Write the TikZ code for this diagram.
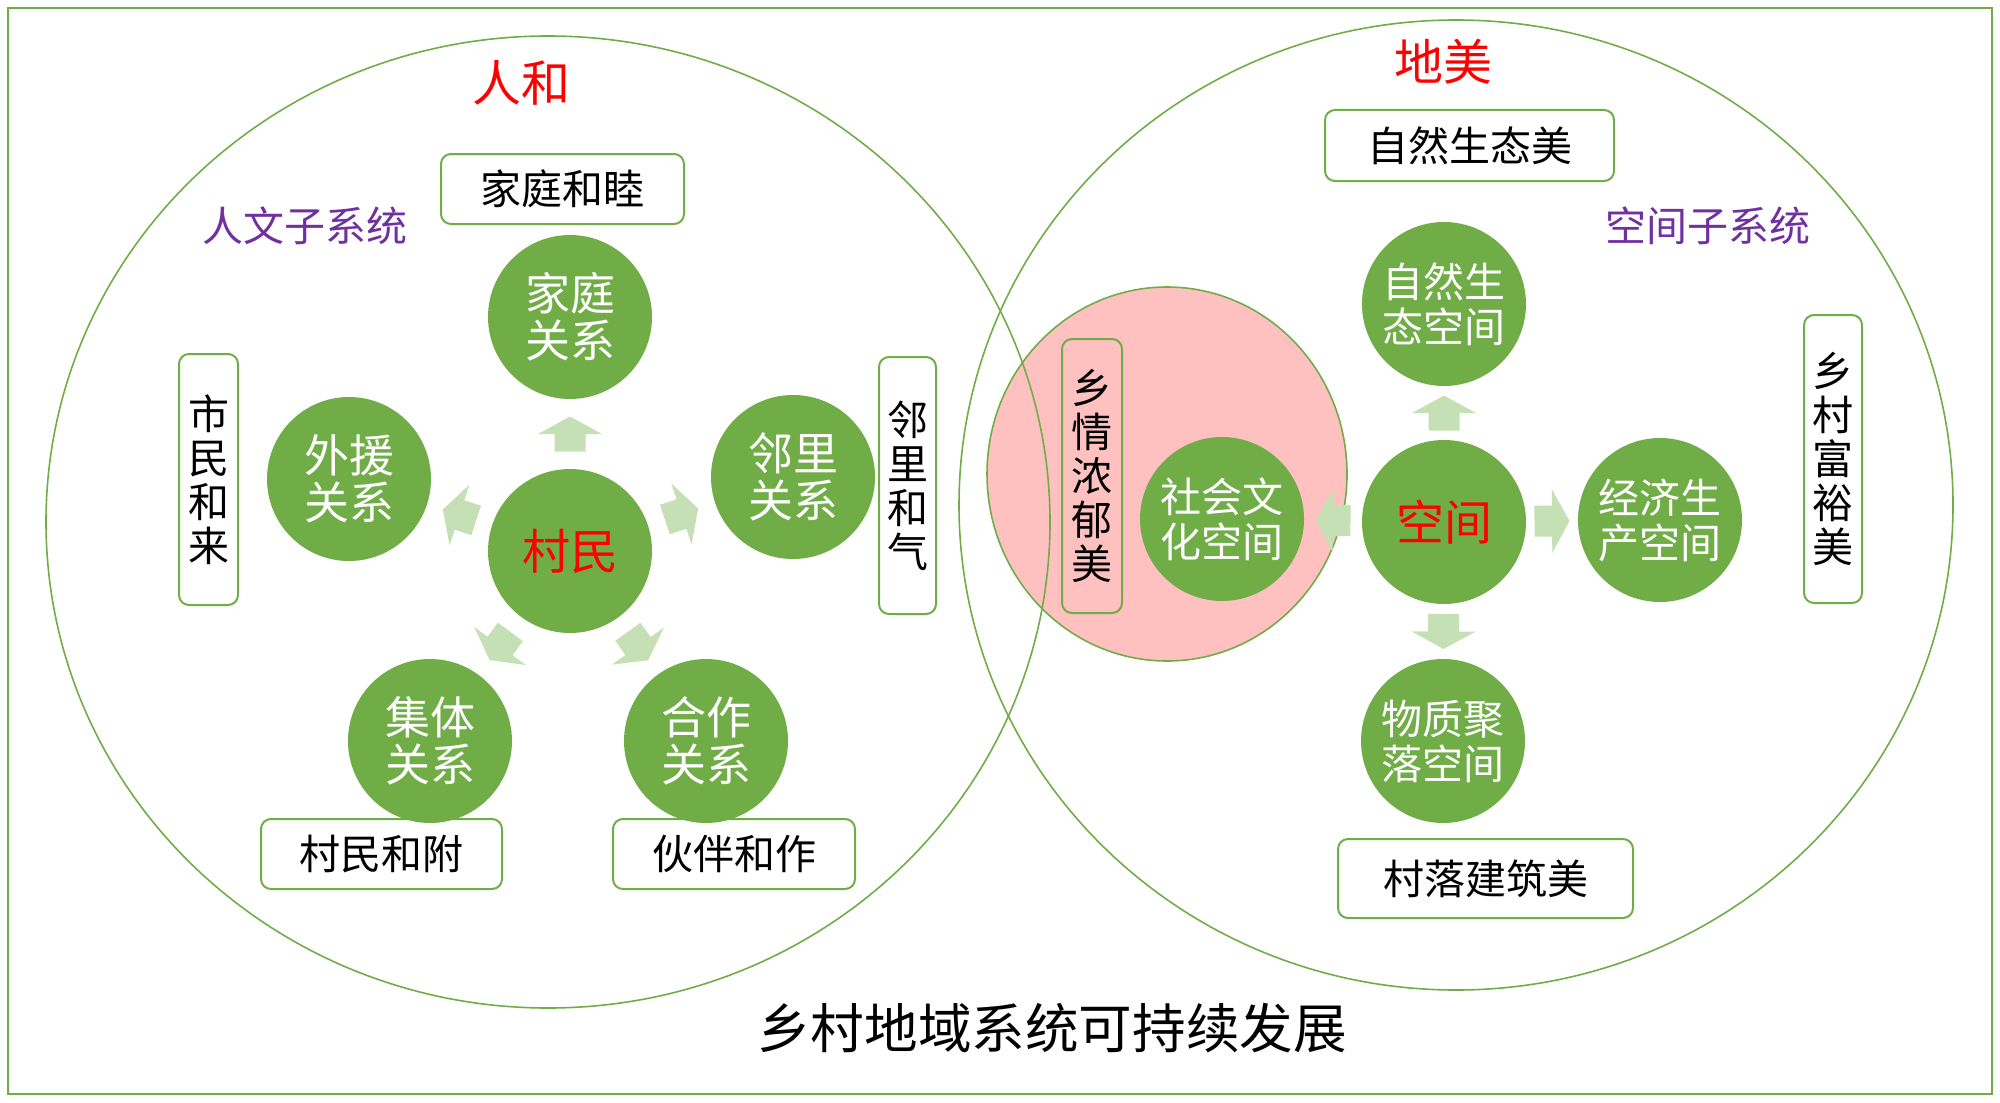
\documentclass[tikz,border=0pt]{standalone}
\usepackage{fontspec}
\setmainfont{Noto Sans CJK SC}
\usetikzlibrary{calc}
\definecolor{cgreen}{HTML}{70AD47}
\definecolor{lgreen}{HTML}{C5E0B4}
\definecolor{cpink}{HTML}{FFC0C0}
\definecolor{cpurple}{HTML}{7030A0}
\newcommand{\fsz}[2]{\fontsize{#1}{#2}\selectfont}
\newcommand{\blockarr}[2]{%
  \pgfmathanglebetweenpoints{\pgfpointanchor{#1}{center}}{\pgfpointanchor{#2}{center}}%
  \let\arrangle\pgfmathresult
  \fill[lgreen, shift={($(#1)!0.5!(#2)$)}, rotate=\arrangle]
    (-17.5,-15.5) -- (0,-15.5) -- (0,-32) -- (17.5,0) -- (0,32) -- (0,15.5) -- (-17.5,15.5) -- cycle;%
}
\begin{document}
\begin{tikzpicture}[x=0.5pt,y=-0.5pt,
  bub/.style={circle, fill=cgreen, draw=none, minimum size=82pt, inner sep=0pt, text=white, align=center},
  bubtwo/.style={bub, font=\fsz{22.5pt}{23.5pt}},
  bubthree/.style={bub, font=\fsz{20.5pt}{22.5pt}},
  bubcore/.style={bub, font=\fsz{24pt}{26pt}, text=red},
  tag/.style={draw=cgreen, line width=1pt, rounded corners=5pt, inner sep=0pt, align=center, font=\fsz{20.5pt}{22pt}},
  ring/.style={draw=cgreen, line width=0.8pt},
  heading/.style={font=\fsz{24.5pt}{26pt}, text=red},
  subsys/.style={font=\fsz{20.5pt}{22pt}, text=cpurple}
]
\useasboundingbox (0,0) rectangle (2000,1102);
\draw[ring] (8,8) rectangle (1992,1094);

% pink social-culture ellipse
\path[fill=cpink, draw=cgreen, line width=0.8pt] (1167,474) ellipse [x radius=90pt, y radius=93.5pt];

% big system ellipses
\draw[ring] (548,522) ellipse [x radius=251pt, y radius=243pt];
\draw[ring] (1456,505) ellipse [x radius=248.5pt, y radius=242.5pt];

% headings
\node[heading] (renhe) at (521,83) {人和};
\node[heading] (dimei) at (1443,62) {地美};
\node[subsys] (renwen) at (305,226) {人文子系统};
\node[subsys] (kongjianzi) at (1708,226) {空间子系统};
\node[font=\fsz{26.8pt}{28pt}] (title) at (1052,1028) {乡村地域系统可持续发展};

% left: human subsystem
\node[bubcore] (cunmin) at (570,551) {村民};
\node[bubtwo] (jiating) at (570,317) {家庭\\关系};
\node[bubtwo] (waiyuan) at (349,479) {外援\\关系};
\node[bubtwo] (linli) at (793,477) {邻里\\关系};
\node[bubtwo] (jiti) at (430,741) {集体\\关系};
\node[bubtwo] (hezuo) at (706,741) {合作\\关系};

\node[tag, minimum width=121.5pt, minimum height=35pt] (jtms) at (562.5,189) {家庭和睦};
\node[tag, minimum width=29.5pt, minimum height=125.5pt] (smhl) at (208.5,479.5) {市\\民\\和\\来};
\node[tag, minimum width=28.5pt, minimum height=128.5pt] (llhq) at (907.5,485.5) {邻\\里\\和\\气};
\node[tag, minimum width=120.5pt, minimum height=35pt] (cmhf) at (381.5,854) {村民和附};
\node[tag, minimum width=121pt, minimum height=35pt] (hbhz) at (734,854) {伙伴和作};

\blockarr{cunmin}{jiating}
\blockarr{cunmin}{waiyuan}
\blockarr{cunmin}{linli}
\blockarr{cunmin}{jiti}
\blockarr{cunmin}{hezuo}

% right: spatial subsystem
\node[bubcore] (kongjian) at (1444,522) {空间};
\node[bubthree] (ziran) at (1444,304) {自然生\\态空间};
\node[bubthree] (shehui) at (1222,519) {社会文\\化空间};
\node[bubthree] (jingji) at (1660,520) {经济生\\产空间};
\node[bubthree] (wuzhi) at (1443,741) {物质聚\\落空间};

\node[tag, minimum width=144.5pt, minimum height=35.5pt] (zrstm) at (1469.5,145.5) {自然生态美};
\node[tag, minimum width=30pt, minimum height=137pt] (xqnym) at (1092,476) {乡\\情\\浓\\郁\\美};
\node[tag, minimum width=29pt, minimum height=144pt] (xcfym) at (1833,459) {乡\\村\\富\\裕\\美};
\node[tag, minimum width=147.5pt, minimum height=39.5pt] (cljzm) at (1485.5,878.5) {村落建筑美};

\blockarr{kongjian}{ziran}
\blockarr{kongjian}{shehui}
\blockarr{kongjian}{jingji}
\blockarr{kongjian}{wuzhi}
\end{tikzpicture}
\end{document}
